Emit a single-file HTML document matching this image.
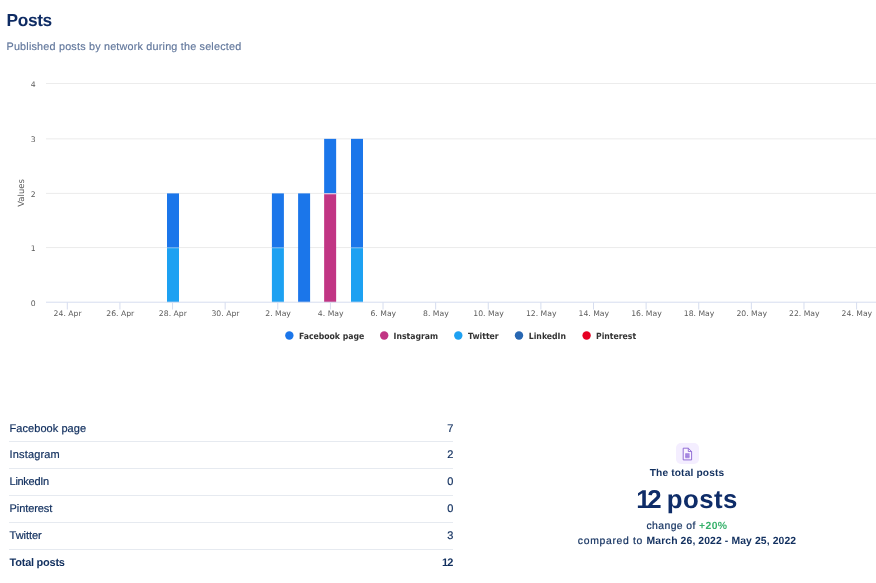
<!DOCTYPE html>
<html lang="en"><head><meta charset="utf-8"><title>Posts</title>
<style>
html,body{margin:0;padding:0;background:#fff;}
body{text-rendering:geometricPrecision;width:876px;height:583px;position:relative;overflow:hidden;font-family:"Liberation Sans",sans-serif;color:#0f2d5e;}
.title{position:absolute;left:6.5px;top:8px;font-size:17.3px;font-weight:bold;line-height:24px;color:#0e2b63;white-space:nowrap;letter-spacing:-0.35px}
.sub{position:absolute;left:6.5px;top:39px;font-size:10.8px;line-height:16px;color:#60769b;white-space:nowrap;letter-spacing:0.2px;-webkit-text-stroke:0.15px #60769b}
svg text.ax{font-family:"DejaVu Sans",sans-serif;font-size:7.7px;fill:#5c5c5c;text-rendering:geometricPrecision}
svg text.lg{font-family:"DejaVu Sans Condensed","DejaVu Sans",sans-serif;font-size:8.6px;font-weight:bold;fill:#333;text-rendering:geometricPrecision}
.ln{position:absolute;left:8.6px;width:444.8px;height:1px;background:#e6eaf0}
.row{position:absolute;left:8.6px;width:444.8px;height:26.95px;box-sizing:border-box;font-size:11px;line-height:26px;color:#12305f;white-space:nowrap}
.row.tot{font-weight:bold}
.row.tot .n,.row.tot .v{-webkit-text-stroke:0}
.row.tot .n{letter-spacing:0px}
.row .n{position:absolute;left:1px;top:0;letter-spacing:0.4px;-webkit-text-stroke:0.2px #12305f}
.row .v{position:absolute;right:0;top:0;-webkit-text-stroke:0.2px #12305f}
.panel{position:absolute;left:487px;width:400px;text-align:center;white-space:nowrap;color:#12305f}
.ico{position:absolute;left:676.2px;top:442.6px;width:22.6px;height:21.6px;border-radius:5px;background:#f4eeff}
.l1{top:465.2px;font-size:10.2px;font-weight:bold;line-height:18px;letter-spacing:0.15px}
.l2{top:484px;font-size:25.8px;font-weight:bold;line-height:32px;color:#0e2c68;letter-spacing:0.45px;word-spacing:-2.9px}
.l2 .d{letter-spacing:-3.2px;margin-right:3.65px}
.l3{top:518px;font-size:10.4px;line-height:18px;letter-spacing:0.4px;-webkit-text-stroke:0.2px #12305f}
.l3 .g{-webkit-text-stroke:0}
.l4{top:533px;font-size:10.4px;line-height:18px;letter-spacing:0.67px;-webkit-text-stroke:0.2px #12305f}
.l4 b{letter-spacing:0.1px;-webkit-text-stroke:0}
.g{color:#38b26c;font-weight:bold}
b{font-weight:bold}
</style></head><body>
<div class="title">Posts</div>
<div class="sub">Published posts by network during the selected</div>
<svg width="876" height="360" viewBox="0 0 876 360" style="position:absolute;left:0;top:0">
<rect x="46" y="83.00" width="830" height="1" fill="#ececec"/>
<rect x="46" y="138.35" width="830" height="1" fill="#ececec"/>
<rect x="46" y="192.90" width="830" height="1" fill="#ececec"/>
<rect x="46" y="247.05" width="830" height="1" fill="#ececec"/>
<rect x="167.00" y="247.55" width="12.0" height="54.65" fill="#1da1f2"/>
<rect x="167.00" y="193.40" width="12.0" height="54.15" fill="#1b76ea"/>
<rect x="167.00" y="247.45" width="12.0" height="1" fill="#ffffff" opacity="0.3"/>
<rect x="271.90" y="247.55" width="12.0" height="54.65" fill="#1da1f2"/>
<rect x="271.90" y="193.40" width="12.0" height="54.15" fill="#1b76ea"/>
<rect x="271.90" y="247.45" width="12.0" height="1" fill="#ffffff" opacity="0.3"/>
<rect x="298.10" y="193.40" width="12.0" height="108.80" fill="#1b76ea"/>
<rect x="324.15" y="193.40" width="12.0" height="108.80" fill="#c13584"/>
<rect x="324.15" y="138.85" width="12.0" height="54.55" fill="#1b76ea"/>
<rect x="324.15" y="193.30" width="12.0" height="1" fill="#ffffff" opacity="0.8"/>
<rect x="351.00" y="247.55" width="12.0" height="54.65" fill="#1da1f2"/>
<rect x="351.00" y="138.85" width="12.0" height="108.70" fill="#1b76ea"/>
<rect x="351.00" y="247.45" width="12.0" height="1" fill="#ffffff" opacity="0.3"/>
<rect x="46" y="301.70" width="830" height="1" fill="#d6ddef"/>
<rect x="66.80" y="302.20" width="1" height="7.3" fill="#d6ddef"/>
<text class="ax" x="67.60" y="315.6" text-anchor="middle">24. Apr</text>
<rect x="119.42" y="302.20" width="1" height="7.3" fill="#d6ddef"/>
<text class="ax" x="120.22" y="315.6" text-anchor="middle">26. Apr</text>
<rect x="172.04" y="302.20" width="1" height="7.3" fill="#d6ddef"/>
<text class="ax" x="172.84" y="315.6" text-anchor="middle">28. Apr</text>
<rect x="224.66" y="302.20" width="1" height="7.3" fill="#d6ddef"/>
<text class="ax" x="225.46" y="315.6" text-anchor="middle">30. Apr</text>
<rect x="277.28" y="302.20" width="1" height="7.3" fill="#d6ddef"/>
<text class="ax" x="278.08" y="315.6" text-anchor="middle">2. May</text>
<rect x="329.90" y="302.20" width="1" height="7.3" fill="#d6ddef"/>
<text class="ax" x="330.70" y="315.6" text-anchor="middle">4. May</text>
<rect x="382.52" y="302.20" width="1" height="7.3" fill="#d6ddef"/>
<text class="ax" x="383.32" y="315.6" text-anchor="middle">6. May</text>
<rect x="435.14" y="302.20" width="1" height="7.3" fill="#d6ddef"/>
<text class="ax" x="435.94" y="315.6" text-anchor="middle">8. May</text>
<rect x="487.76" y="302.20" width="1" height="7.3" fill="#d6ddef"/>
<text class="ax" x="488.56" y="315.6" text-anchor="middle">10. May</text>
<rect x="540.38" y="302.20" width="1" height="7.3" fill="#d6ddef"/>
<text class="ax" x="541.18" y="315.6" text-anchor="middle">12. May</text>
<rect x="593.00" y="302.20" width="1" height="7.3" fill="#d6ddef"/>
<text class="ax" x="593.80" y="315.6" text-anchor="middle">14. May</text>
<rect x="645.62" y="302.20" width="1" height="7.3" fill="#d6ddef"/>
<text class="ax" x="646.42" y="315.6" text-anchor="middle">16. May</text>
<rect x="698.24" y="302.20" width="1" height="7.3" fill="#d6ddef"/>
<text class="ax" x="699.04" y="315.6" text-anchor="middle">18. May</text>
<rect x="750.86" y="302.20" width="1" height="7.3" fill="#d6ddef"/>
<text class="ax" x="751.66" y="315.6" text-anchor="middle">20. May</text>
<rect x="803.48" y="302.20" width="1" height="7.3" fill="#d6ddef"/>
<text class="ax" x="804.28" y="315.6" text-anchor="middle">22. May</text>
<rect x="856.10" y="302.20" width="1" height="7.3" fill="#d6ddef"/>
<text class="ax" x="856.90" y="315.6" text-anchor="middle">24. May</text>
<text class="ax" x="35.6" y="86.80" text-anchor="end">4</text>
<text class="ax" x="35.6" y="142.15" text-anchor="end">3</text>
<text class="ax" x="35.6" y="196.70" text-anchor="end">2</text>
<text class="ax" x="35.6" y="250.85" text-anchor="end">1</text>
<text class="ax" x="35.6" y="305.50" text-anchor="end">0</text>
<text class="ax" style="font-size:8.5px" transform="translate(23.5,192.9) rotate(-90)" text-anchor="middle">Values</text>
<circle cx="289.35" cy="335.5" r="4.2" fill="#1b76ea"/>
<text class="lg" x="298.9" y="338.5">Facebook page</text>
<circle cx="384.2" cy="335.5" r="4.2" fill="#c13584"/>
<text class="lg" x="393.6" y="338.5">Instagram</text>
<circle cx="458.3" cy="335.5" r="4.2" fill="#1da1f2"/>
<text class="lg" x="468.1" y="338.5">Twitter</text>
<circle cx="519.0" cy="335.5" r="4.2" fill="#2867b2"/>
<text class="lg" x="528.8" y="338.5">LinkedIn</text>
<circle cx="586.6" cy="335.5" r="4.2" fill="#e60023"/>
<text class="lg" x="596.0" y="338.5">Pinterest</text>
</svg>
<div class="row" style="top:415.6px"><span class="n" style="letter-spacing:0.05px">Facebook page</span><span class="v">7</span></div>
<div class="row" style="top:442.4px"><span class="n" style="letter-spacing:0.15px">Instagram</span><span class="v">2</span></div>
<div class="row" style="top:469.2px"><span class="n" style="letter-spacing:-0.3px">LinkedIn</span><span class="v">0</span></div>
<div class="row" style="top:496.0px"><span class="n" style="letter-spacing:-0.1px">Pinterest</span><span class="v">0</span></div>
<div class="row" style="top:522.9px"><span class="n" style="letter-spacing:-0.05px">Twitter</span><span class="v">3</span></div>
<div class="row tot" style="top:549.7px"><span class="n" style="letter-spacing:-0.25px">Total posts</span><span class="v"><span style="letter-spacing:-0.8px;margin-right:0.8px">12</span></span></div>
<div class="ln" style="top:441px"></div>
<div class="ln" style="top:468px"></div>
<div class="ln" style="top:495px"></div>
<div class="ln" style="top:522px"></div>
<div class="ln" style="top:549px"></div>
<div class="ico"><svg width="22.6" height="21.6" viewBox="0 0 22.6 21.6" style="position:absolute;left:0;top:0"><path d="M7.2 5.2h5.1l3.3 3.3v8.4H7.2z" fill="#f9f3ff" stroke="#8259cf" stroke-width="0.85" stroke-linejoin="round"/><path d="M12.3 5.3v3.2h3.2" fill="none" stroke="#8259cf" stroke-width="0.8"/><rect x="9.1" y="10.2" width="4.5" height="5" fill="#b59ae6"/><path d="M10.6 10.2v5M12.1 10.2v5M9.1 11.9h4.5M9.1 13.5h4.5" stroke="#9a78dc" stroke-width="0.5" fill="none"/></svg></div>
<div class="panel l1">The total posts</div>
<div class="panel l2"><span class="d">12</span> posts</div>
<div class="panel l3">change of <span class="g">+20%</span></div>
<div class="panel l4">compared to <b>March 26, 2022 - May 25, 2022</b></div>
</body></html>
